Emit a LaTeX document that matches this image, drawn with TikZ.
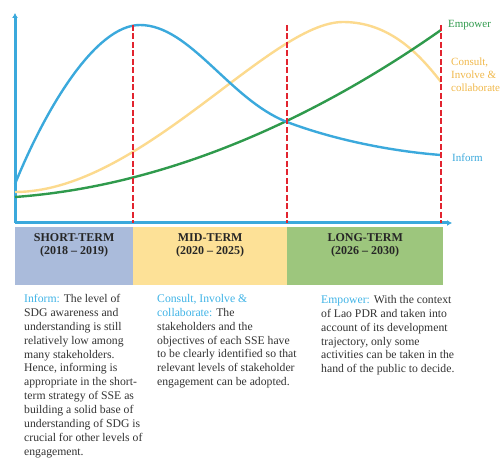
\documentclass[tikz,border=0pt]{standalone}
\usepackage{fontspec}
\setmainfont{Liberation Serif}
\usetikzlibrary{positioning, arrows.meta}

\definecolor{informblue}{HTML}{3BA9DC}
\definecolor{consultyellow}{HTML}{FCDA8E}
\definecolor{consulttag}{HTML}{F0B84A}
\definecolor{empowergreen}{HTML}{2F9A4C}
\definecolor{dashred}{HTML}{E2242F}
\definecolor{shortband}{HTML}{AABBDB}
\definecolor{midband}{HTML}{FDE197}
\definecolor{longband}{HTML}{9DC67D}
\definecolor{leadblue}{HTML}{3FB3E6}

\tikzset{
  axis/.style={informblue, line width=3pt, -{Latex[length=5pt,width=6pt]}},
  divider/.style={dashred, line width=2.2pt, dash pattern=on 6pt off 2.5pt},
  curve/.style={line width=2.4pt},
  band/.style={anchor=north west, inner sep=0pt, minimum height=58pt},
  bandtxt/.style={align=center, inner sep=0pt, font=\bfseries\fontsize{12}{13.5}\selectfont, text=black!85},
  para/.style={anchor=north west, inner sep=0pt, align=left, font=\fontsize{11.7}{13.9}\selectfont, text=black!80},
  tag/.style={anchor=west, inner sep=0pt, align=left, font=\fontsize{11}{13}\selectfont}
}

\begin{document}
\begin{tikzpicture}[x=1pt, y=-1pt]
	\useasboundingbox (0,0) rectangle (500,462);

	% axes
	\coordinate (origin) at (15,223);
	\coordinate (ytop) at (15,13);
	\coordinate (xend) at (452,223);
	\draw[axis] (origin) -- (ytop);

	% term bands
	\node[band, fill=shortband, minimum width=118pt] (short) at (15,227) {};
	\node[band, fill=midband, minimum width=154pt] (mid) at (133,227) {};
	\node[band, fill=longband, minimum width=156pt] (long) at (287,227) {};
	\node[bandtxt, below=6pt of short.north] (shorttxt) {SHORT-TERM\\(2018 -- 2019)};
	\node[bandtxt, below=6pt of mid.north] (midtxt) {MID-TERM\\(2020 -- 2025)};
	\node[bandtxt, below=6pt of long.north] (longtxt) {LONG-TERM\\(2026 -- 2030)};

	\draw[axis] (origin) -- (xend);

	% curves
	\draw[curve, consultyellow] (15,192) .. controls (140,192) and (270,22) .. (343,22)
		.. controls (390,22) and (420,55) .. (441,82);
	\draw[curve, empowergreen] (15,197) .. controls (180,185) and (330,108) .. (441,30);
	\draw[curve, informblue] (15,184) .. controls (45,110) and (95,25) .. (140,25)
		.. controls (190,25) and (230,100) .. (287,122)
		.. controls (340,142) and (400,152) .. (441,155);

	% dividers
	\coordinate (d1top) at (133,25);
	\coordinate (d1bot) at (133,223);
	\coordinate (d2top) at (287,25);
	\coordinate (d2bot) at (287,223);
	\coordinate (d3top) at (441,25);
	\coordinate (d3bot) at (441,223);
	\draw[divider] (d1top) -- (d1bot);
	\draw[divider] (d2top) -- (d2bot);
	\draw[divider] (d3top) -- (d3bot);

	% curve tags
	\node[tag, text=empowergreen] (empowertag) at (448,25) {Empower};
	\node[tag, text=consulttag] (consulttag) at (451,75) {Consult,\\Involve \&\\collaborate};
	\node[tag, text=informblue] (informtag) at (452,158) {Inform};

	% descriptions
	\node[para] (informtxt) at (24,294) {\textcolor{leadblue}{Inform:} The level of\\SDG awareness and\\understanding is still\\relatively low among\\many stakeholders.\\Hence, informing is\\appropriate in the short-\\term strategy of SSE as\\building a solid base of\\understanding of SDG is\\crucial for other levels of\\engagement.};
	\node[para] (consulttxt) at (157,294) {\textcolor{leadblue}{Consult, Involve \&}\\\textcolor{leadblue}{collaborate:} The\\stakeholders and the\\objectives of each SSE have\\to be clearly identified so that\\relevant levels of stakeholder\\engagement can be adopted.};
	\node[para] (empowertxt) at (321,295) {\textcolor{leadblue}{Empower:} With the context\\of Lao PDR and taken into\\account of its development\\trajectory, only some\\activities can be taken in the\\hand of the public to decide.};

\end{tikzpicture}
\end{document}
